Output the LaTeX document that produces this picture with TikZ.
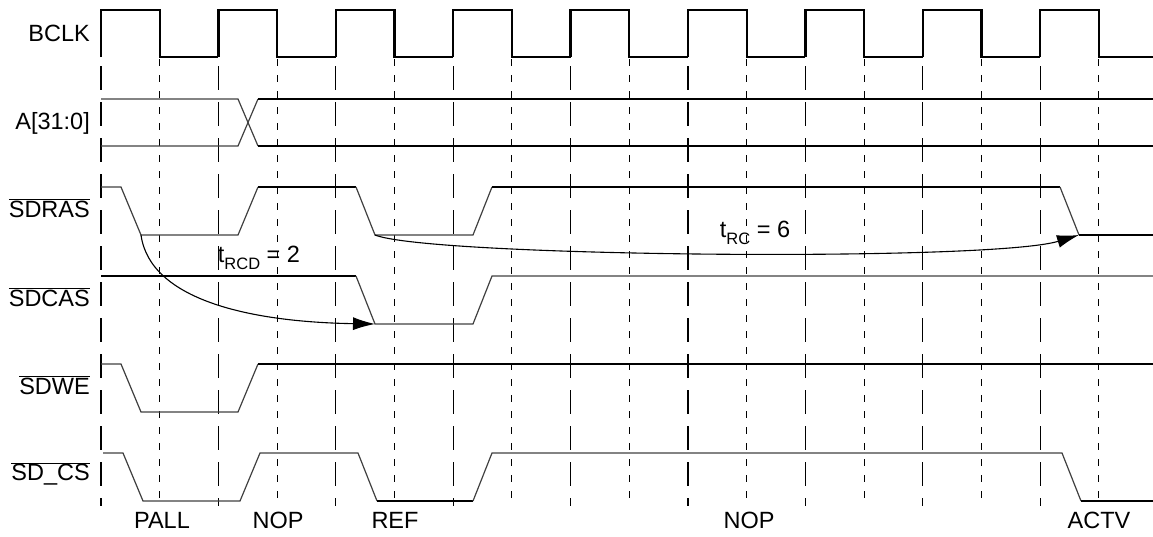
\documentclass[tikz,border=0pt]{standalone}
\usepackage{fontspec}
\setmainfont{Liberation Sans}
\usetikzlibrary{arrows.meta}
\newcommand\barre[1]{$\overline{\mbox{#1}}$}
\newcommand\indice[1]{\raisebox{-0.3em}{\fontsize{16.5}{17}\selectfont #1}}
\begin{document}
\begin{tikzpicture}[x=1pt,y=-1pt,font=\fontsize{23.5}{28}\selectfont]
			\tikzstyle{trait}=[line width=2.3pt,black]
			\tikzstyle{traitfin}=[line width=1.2pt,black!75]
			\tikzstyle{tiretlong}=[line width=1.1pt,dash pattern=on 24pt off 12pt]
			\tikzstyle{tiretcourt}=[line width=1.1pt,dash pattern=on 7pt off 9pt]
			\tikzstyle{fleche}=[-{Latex[length=22pt,width=13pt]},line width=1.1pt]
			\tikzstyle{nom}=[anchor=east,inner sep=0pt]
			\tikzstyle{commande}=[inner sep=0pt]
			\tikzstyle{etiquette}=[inner sep=0pt]
			
			\useasboundingbox (0,0) rectangle (1153,536);
			
			\def\Debut{101}
			\def\Periode{117.4}
			\def\Fin{1153}
			
			% horloge et reperes
			\foreach \k in {0,...,8}{
				\draw[trait] ({\Debut+\k*\Periode},57) |- ({\Debut+(\k+0.5)*\Periode},10) |- ({min(\Debut+(\k+1)*\Periode,\Fin)},57);
				\draw[tiretlong] ({\Debut+\k*\Periode},66) -- ++(0,440);
				\draw[tiretcourt] ({\Debut+(\k+0.5)*\Periode},59) -- ++(0,447);
			}
			
			% noms des signaux
			\node[nom] (bclk) at (90,33) {BCLK};
			\node[nom] (adr) at (90,123) {A[31:0]};
			\node[nom] (ras) at (90,208) {\barre{SDRAS}};
			\node[nom] (cas) at (90,297) {\barre{SDCAS}};
			\node[nom] (we) at (90,385) {\barre{SDWE}};
			\node[nom] (cs) at (90,474) {\barre{SD\_CS}};
			
			% A[31:0]
			\draw[traitfin] (\Debut,99) -- (238,99) -- (258,146);
			\draw[traitfin] (\Debut,146) -- (238,146) -- (258,99);
			\draw[trait] (258,99) -- (\Fin,99);
			\draw[trait] (258,146) -- (\Fin,146);
			
			% SDRAS
			\draw[traitfin] (\Debut,187) -- (121,187) -- (141,235) -- (238,235) -- (258,187);
			\draw[trait] (258,187) -- (356,187);
			\draw[traitfin] (356,187) -- (375,235) -- (473,235) -- (492,187);
			\draw[trait] (492,187) -- (1060,187);
			\draw[traitfin] (1060,187) -- (1079,235);
			\draw[trait] (1079,235) -- (\Fin,235);
			
			% SDCAS
			\draw[trait] (\Debut,276) -- (356,276);
			\draw[traitfin] (356,276) -- (375,324) -- (473,324) -- (492,276) -- (\Fin,276);
			
			% SDWE
			\draw[traitfin] (\Debut,364) -- (121,364) -- (141,412) -- (238,412) -- (258,364);
			\draw[trait] (258,364) -- (\Fin,364);
			
			% SD_CS
			\draw[traitfin] (103,453) -- (123,453) -- (143,501) -- (240,501) -- (260,453) -- (358,453) -- (377,501);
			\draw[trait] (377,501) -- (473,501);
			\draw[traitfin] (473,501) -- (492,453) -- (1062,453) -- (1081,501);
			\draw[trait] (1081,501) -- (\Fin,501);
			
			% delais
			\coordinate (RASbas) at (141,235);
			\coordinate (CASbas) at (375,324);
			\coordinate (RASref) at (375,235);
			\coordinate (RASactv) at (1079,235);
			\draw[fleche] (RASbas) .. controls (150,300) and (250,322) .. (CASbas);
			\draw[fleche] (RASref) .. controls (430,257) and (990,262) .. (RASactv);
			\node[etiquette] (trcd) at (259,258) {t\indice{RCD} = 2};
			\node[etiquette] (trc) at (755,233) {t\indice{RC} = 6};
			
			% commandes
			\node[commande] (pall) at (162,520) {PALL};
			\node[commande] (nopa) at (278,520) {NOP};
			\node[commande] (ref) at (395,520) {REF};
			\node[commande] (nopb) at (749,520) {NOP};
			\node[commande] (actv) at (1099,520) {ACTV};
		\end{tikzpicture}
\end{document}
